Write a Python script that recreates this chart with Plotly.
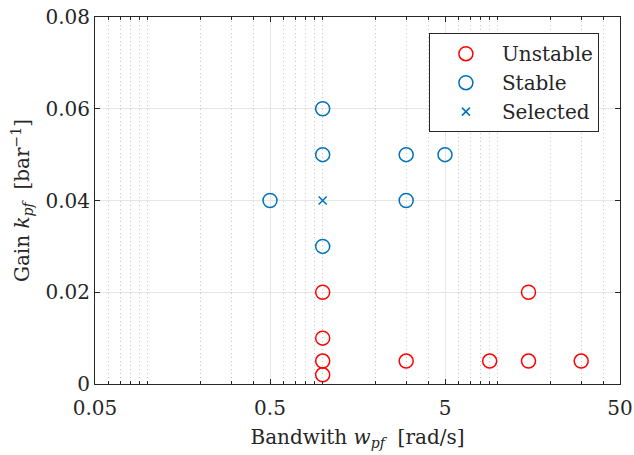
import plotly.graph_objects as go

unstable_w = [1, 1, 1, 1, 3, 9, 15, 15, 30]
unstable_k = [0.002, 0.005, 0.01, 0.02, 0.005, 0.005, 0.005, 0.02, 0.005]
stable_w = [0.5, 1, 1, 1, 3, 3, 5]
stable_k = [0.04, 0.03, 0.05, 0.06, 0.04, 0.05, 0.05]
selected_w = [1]
selected_k = [0.04]
x_ticks = [0.05, 0.5, 5, 50]
y_ticks = [0, 0.02, 0.04, 0.06, 0.08]

FONT = "DejaVu Serif"
RED = "#ff0000"
BLUE = "#0072BD"
FS = 20

fig = go.Figure()
fig.add_trace(go.Scatter(x=unstable_w, y=unstable_k, mode="markers", name="Unstable",
                         marker=dict(symbol="circle-open", size=14, color=RED, line=dict(width=1.5))))
fig.add_trace(go.Scatter(x=stable_w, y=stable_k, mode="markers", name="Stable",
                         marker=dict(symbol="circle-open", size=14, color=BLUE, line=dict(width=1.5))))
fig.add_trace(go.Scatter(x=selected_w, y=selected_k, mode="markers", name="Selected",
                         marker=dict(symbol="x-thin-open", size=8, color=BLUE, line=dict(width=1.5))))

axis_common = dict(showline=True, linecolor="#262626", linewidth=1, mirror="allticks",
                   ticks="inside", ticklen=5, tickcolor="#262626", automargin=False,
                   gridcolor="#e6e6e6", gridwidth=1, zeroline=False,
                   tickfont=dict(family=FONT, size=FS, color="#262626"))

fig.update_xaxes(type="log", range=[-1.30103, 1.69897], tickvals=x_ticks,
                 ticktext=[str(v) for v in x_ticks], ticklabelstandoff=6,
                 minor=dict(dtick="D1", showgrid=True, griddash="1px,3px", gridcolor="#c4c4c4",
                            ticks="inside", ticklen=3, tickcolor="#262626"),
                 title=dict(text="Bandwith <i>w</i><sub><i>pf</i></sub>  [rad/s]",
                            font=dict(family=FONT, size=FS, color="#262626"), standoff=10),
                 **axis_common)
fig.update_yaxes(range=[0, 0.08], tickvals=y_ticks, ticktext=["0", "0.02", "0.04", "0.06", "0.08"],
                 title=dict(text="Gain <i>k</i><sub><i>pf</i></sub>  [bar<sup>−1</sup>]",
                            font=dict(family=FONT, size=FS, color="#262626"), standoff=10),
                 **axis_common)

fig.update_layout(width=634, height=455, margin=dict(l=95, r=14, t=17, b=71),
                  plot_bgcolor="white", paper_bgcolor="white", showlegend=True,
                  legend=dict(x=0.636, y=0.956, xanchor="left", yanchor="top",
                              bgcolor="white", bordercolor="#262626", borderwidth=1,
                              font=dict(family=FONT, size=FS, color="#262626"),
                              itemwidth=62, tracegroupgap=0))
fig.write_html("out.html")
